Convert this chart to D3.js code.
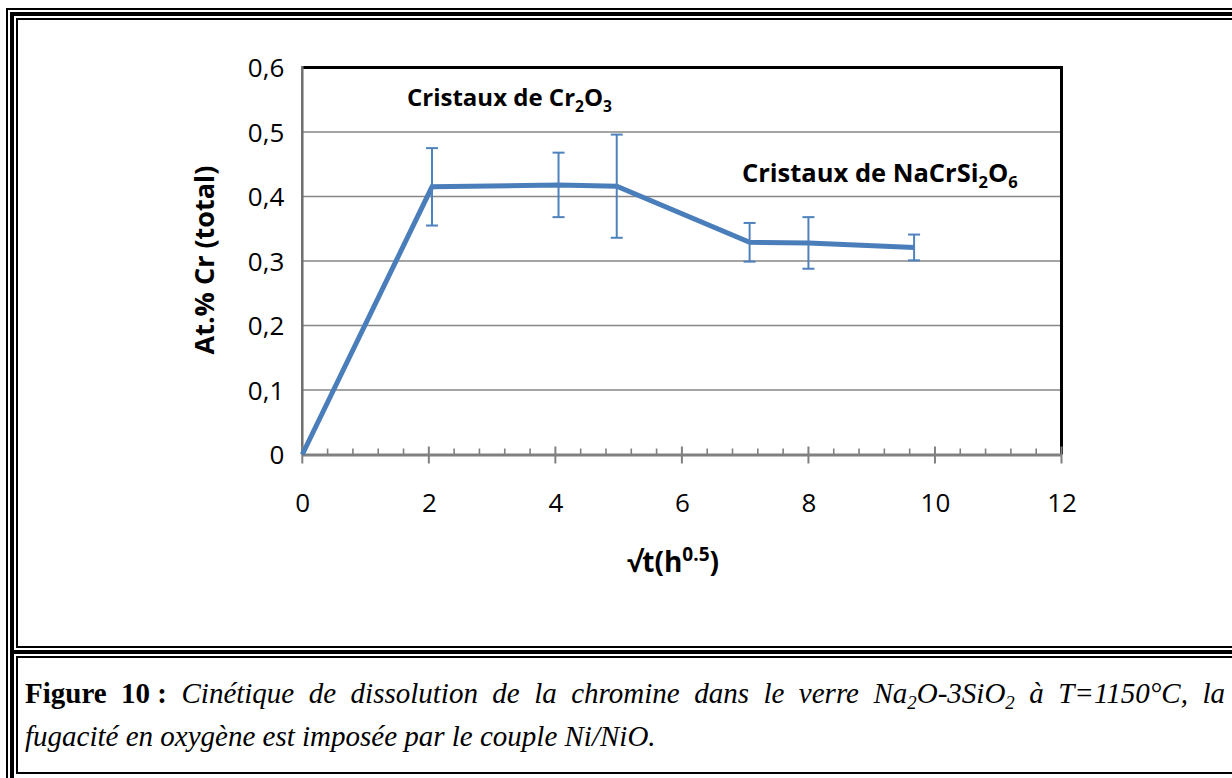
<!DOCTYPE html>
<html>
<head>
<meta charset="utf-8">
<script src="https://cdn.jsdelivr.net/npm/d3@7"></script>
<style>
  html, body { margin: 0; padding: 0; background: #fff; }
  svg { display: block; }
</style>
</head>
<body>
<svg id="fig" width="1232" height="778"></svg>
<script>
// Square root of time (h^0.5) for each sample
const sqrtTime = [0, 2.05, 4.05, 4.97, 7.07, 8.0, 9.67];
// Total chromium content (at.%)
const crTotal = [0, 0.415, 0.418, 0.416, 0.329, 0.328, 0.321];
// Half-width of each error bar
const crError = [0, 0.06, 0.05, 0.08, 0.03, 0.04, 0.02];

const xTicks = [0, 2, 4, 6, 8, 10, 12];
const yTicks = [0, 0.1, 0.2, 0.3, 0.4, 0.5, 0.6];

const svg = d3.select("#fig");
const BLUE = "#4a7ebb";
const GRID = "#868686";
const chartFont = "'Open Sans', 'Noto Sans', sans-serif";
const serif = "'Liberation Serif', 'DejaVu Serif', serif";

// ---------- page frame (triple rule) ----------
const frame = svg.append("g");
function rule(x, y, w, h) {
  frame.append("rect").attr("x", x).attr("y", y).attr("width", w).attr("height", h).attr("fill", "#000");
}
// outer thin
rule(6, 8, 2, 800); rule(6, 8, 1300, 2);
// thick
rule(10, 12, 4, 800); rule(10, 12, 1300, 4);
// inner thin (chart cell)
rule(16, 18, 2, 630); rule(16, 18, 1300, 2);
// divider between chart and caption
rule(16, 646, 1300, 2);
rule(10, 650, 1300, 4);
rule(16, 656, 2, 118); rule(16, 656, 1300, 2);
// bottom of caption cell
rule(16, 772, 1300, 2);

// ---------- chart ----------
const x = d3.scaleLinear().domain([0, 12]).range([302.3, 1061.5]);
const y = d3.scaleLinear().domain([0, 0.6]).range([454.5, 67.5]);

const g = svg.append("g");

// horizontal gridlines
g.selectAll("line.grid").data(yTicks.filter(d => d > 0 && d < 0.6)).enter()
  .append("line").attr("class", "grid")
  .attr("x1", x(0)).attr("x2", x(12))
  .attr("y1", d => y(d)).attr("y2", d => y(d))
  .attr("stroke", GRID).attr("stroke-width", 1.6);

// plot border: top and right in black
g.append("line").attr("x1", x(0)).attr("x2", x(12) + 1.5).attr("y1", y(0.6)).attr("y2", y(0.6))
  .attr("stroke", "#000").attr("stroke-width", 3);
g.append("line").attr("x1", x(12)).attr("x2", x(12)).attr("y1", y(0.6)).attr("y2", y(0))
  .attr("stroke", "#000").attr("stroke-width", 3);

// y axis line
g.append("line").attr("x1", x(0)).attr("x2", x(0)).attr("y1", y(0.6) - 1.5).attr("y2", y(0))
  .attr("stroke", "#6e6e6e").attr("stroke-width", 2.5);

// x axis via d3 axis (major ticks), minor ticks added separately
const xAxis = d3.axisBottom(x).tickValues(xTicks).tickSize(0).tickFormat(d => d);
const xg = g.append("g").attr("transform", `translate(0,${y(0)})`).call(xAxis);
xg.select(".domain").attr("stroke", "#808080").attr("stroke-width", 3);
xg.selectAll(".tick text")
  .attr("font-family", chartFont).attr("font-size", 26).attr("fill", "#000")
  .attr("dy", 0).attr("y", 57);

// major ticks crossing the axis
g.selectAll("line.major").data(xTicks).enter().append("line").attr("class", "major")
  .attr("x1", d => x(d)).attr("x2", d => x(d))
  .attr("y1", y(0) - 8).attr("y2", y(0) + 9)
  .attr("stroke", "#808080").attr("stroke-width", 2);
// minor ticks every 0.4 on the inside
const minor = d3.range(0, 12.001, 0.4).filter(v => Math.abs(v / 2 - Math.round(v / 2)) > 1e-6);
g.selectAll("line.minor").data(minor).enter().append("line").attr("class", "minor")
  .attr("x1", d => x(d)).attr("x2", d => x(d))
  .attr("y1", y(0) - 6).attr("y2", y(0))
  .attr("stroke", "#808080").attr("stroke-width", 1.6);

// y axis labels
const yAxis = d3.axisLeft(y).tickValues(yTicks).tickSize(0)
  .tickFormat(d => d === 0 ? "0" : d3.format(".1f")(d).replace(".", ","));
const yg = g.append("g").attr("transform", `translate(${x(0)},0)`).call(yAxis);
yg.select(".domain").remove();
yg.selectAll(".tick text")
  .attr("font-family", chartFont).attr("font-size", 26).attr("fill", "#000")
  .attr("x", -18).attr("dy", "0.36em");

// data line
const line = d3.line().x((d, i) => x(sqrtTime[i])).y(d => y(d));
g.append("path").datum(crTotal).attr("d", line)
  .attr("fill", "none").attr("stroke", BLUE).attr("stroke-width", 5)
  .attr("stroke-linejoin", "miter");

// error bars
const eb = g.selectAll("g.err").data(crTotal.map((v, i) => ({ t: sqrtTime[i], v, e: crError[i] })).filter(d => d.e > 0))
  .enter().append("g").attr("class", "err").attr("stroke", "#4f81bd").attr("stroke-width", 2);
eb.append("line").attr("x1", d => x(d.t)).attr("x2", d => x(d.t))
  .attr("y1", d => y(d.v + d.e)).attr("y2", d => y(d.v - d.e));
eb.append("line").attr("x1", d => x(d.t) - 6).attr("x2", d => x(d.t) + 6)
  .attr("y1", d => y(d.v + d.e)).attr("y2", d => y(d.v + d.e));
eb.append("line").attr("x1", d => x(d.t) - 6).attr("x2", d => x(d.t) + 6)
  .attr("y1", d => y(d.v - d.e)).attr("y2", d => y(d.v - d.e));

// text with subscripts / superscripts: parts = [[text, shift]]
function richText(parent, px, py, parts, opts) {
  const t = parent.append("text").attr("x", px).attr("y", py)
    .attr("font-family", opts.family).attr("font-size", opts.size)
    .attr("font-weight", opts.weight || "normal")
    .attr("font-style", opts.style || "normal")
    .attr("text-anchor", opts.anchor || "start").attr("fill", "#000");
  let cur = 0;
  parts.forEach(([s, shift]) => {
    const sp = t.append("tspan").text(s);
    const dy = shift - cur;
    if (dy !== 0) sp.attr("dy", dy);
    if (shift !== 0) sp.attr("font-size", opts.size * (opts.scriptScale || 0.65));
    cur = shift;
  });
  return t;
}

// annotations
richText(g, 407, 106, [["Cristaux de Cr", 0], ["2", 6], ["O", 0], ["3", 6]],
  { family: chartFont, size: 24, weight: "bold" });
richText(g, 742, 182, [["Cristaux de NaCrSi", 0], ["2", 6], ["O", 0], ["6", 6]],
  { family: chartFont, size: 25.5, weight: "bold" });

// axis titles
richText(g, 673, 572, [["\u221At(h", 0], ["0.5", -11], [")", 0]],
  { family: chartFont, size: 28, weight: "bold", anchor: "middle", scriptScale: 0.68 });
g.append("text").attr("transform", "translate(214,260) rotate(-90)")
  .attr("text-anchor", "middle").attr("font-family", chartFont)
  .attr("font-size", 27).attr("font-weight", "bold").text("At.% Cr (total)");

// ---------- caption ----------
const cap = svg.append("g");
const capSize = 29;
const line1 = [
  [["Figure", 0, "b"]], [["10 :", 0, "b"]],
  [["Cinétique", 0, "i"]], [["de", 0, "i"]], [["dissolution", 0, "i"]], [["de", 0, "i"]],
  [["la", 0, "i"]], [["chromine", 0, "i"]], [["dans", 0, "i"]], [["le", 0, "i"]], [["verre", 0, "i"]],
  [["Na", 0, "i"], ["2", 6, "i"], ["O-3SiO", 0, "i"], ["2", 6, "i"]],
  [["à", 0, "i"]], [["T=1150°C,", 0, "i"]], [["la", 0, "i"]]
];
function drawWord(parent, parts, py) {
  const t = parent.append("text").attr("x", 0).attr("y", py)
    .attr("font-family", serif).attr("font-size", capSize).attr("fill", "#000");
  let cur = 0;
  parts.forEach(([s, shift, st]) => {
    const sp = t.append("tspan").text(s)
      .attr("font-weight", st === "b" ? "bold" : "normal")
      .attr("font-style", st === "i" ? "italic" : "normal");
    if (shift - cur !== 0) sp.attr("dy", shift - cur);
    if (shift !== 0) sp.attr("font-size", capSize * 0.65);
    cur = shift;
  });
  return t;
}
// justified first line
const left = 25, right = 1225;
const words = line1.map(p => drawWord(cap, p, 703));
const widths = words.map(w => w.node().getComputedTextLength());
const gap = (right - left - d3.sum(widths)) / (words.length - 1);
let cx = left;
words.forEach((w, i) => { w.attr("x", cx); cx += widths[i] + gap; });

// second line
drawWord(cap, [["fugacité en oxygène est imposée par le couple Ni/NiO.", 0, "i"]], 746).attr("x", left);
</script>
</body>
</html>
